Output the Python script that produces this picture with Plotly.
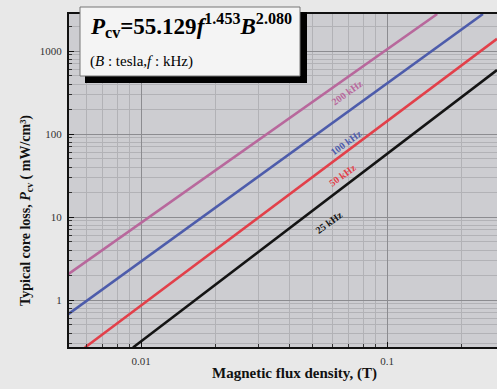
import plotly.graph_objects as go

# Core loss lines, one per frequency: flux density (T) and loss (mW/cm³) at the ends
freq_labels = ["200 kHz", "100 kHz", "50 kHz", "25 kHz"]
b_200 = [0.005, 0.16]
p_200 = [2.0, 2790]
b_100 = [0.005, 0.2455]
p_100 = [0.656, 2790]
b_50 = [0.00592, 0.28]
p_50 = [0.268, 1400]
b_25 = [0.00928, 0.28]
p_25 = [0.268, 590]

x_tick_vals = [0.01, 0.1]
x_tick_text = ["0.01", "0.1"]
y_tick_vals = [1, 10, 100, 1000]
y_tick_text = ["1", "10", "100", "1000"]

colors = ["#b8689c", "#4d5cab", "#e2404a", "#141414"]
series = [(b_200, p_200), (b_100, p_100), (b_50, p_50), (b_25, p_25)]

W, H = 497, 389
L, R, T, B = 69, 0, 14, 42
PW, PH = W - L - R, H - T - B


def px(x):
    return (x - L) / PW


def py(y):
    return (H - B - y) / PH


SERIF = "Liberation Serif"

fig = go.Figure()
for (bx, by), name, col in zip(series, freq_labels, colors):
    fig.add_trace(go.Scatter(x=bx, y=by, mode="lines", name=name,
                             line=dict(color=col, width=2.6), showlegend=False))


def note(x, y, text, size, color="#000", angle=0, xanchor="center", bold=False):
    fig.add_annotation(x=px(x), y=py(y), xref="paper", yref="paper",
                       xanchor=xanchor, yanchor="middle", textangle=angle,
                       text=f"<b>{text}</b>" if bold else text, showarrow=False,
                       font=dict(family=SERIF, size=size, color=color))


# Frequency labels along the lines
label_pos = [(347, 92), (346, 142), (342, 175), (329, 223)]
for name, col, (lx, ly) in zip(freq_labels, colors, label_pos):
    note(lx, ly, name, 10, col, angle=-36, bold=True)

# Formula box with a heavy drop shadow on its lower and right sides
fig.add_shape(type="rect", xref="paper", yref="paper",
              x0=px(85), x1=px(307), y0=py(83), y1=py(12),
              fillcolor="black", line=dict(color="black", width=0), layer="above")
fig.add_shape(type="rect", xref="paper", yref="paper",
              x0=px(80), x1=px(300), y0=py(76), y1=py(7),
              fillcolor="#f4f4f4", line=dict(color="#777777", width=1), layer="above")
note(88, 26, "<i>P</i><sub>cv</sub>=55.129<i>f</i><sup>1.453</sup><i>B</i><sup>2.080</sup>",
     23, xanchor="left", bold=True)
note(88, 62, "(<i>B</i> : tesla,<i>f</i> : kHz)", 15, xanchor="left")

# Axis titles
note(26, 211, "Typical core loss, <i>P</i><sub>cv</sub> ( mW/cm³)", 14, "#111",
     angle=-90, bold=True)
note(294, 373, "Magnetic flux density, (T)", 15, "#111", bold=True)

x0 = -2 - (141 - L) / 246
x1 = -2 + (W - R - 141) / 246
y1 = (300 - T) / 83
y0 = (300 - (H - B)) / 83

axis_common = dict(
    type="log", ticks="inside", ticklen=5, tickcolor="#111",
    showline=True, linecolor="#111", linewidth=2,
    showgrid=True, gridcolor="#8c8c90", gridwidth=1, zeroline=False,
    tickfont=dict(family=SERIF, size=11, color="#333"),
    minor=dict(dtick="D1", ticks="inside", ticklen=3, tickcolor="#333",
               showgrid=True, gridcolor="#b2b2b6", gridwidth=1),
)

fig.update_layout(
    width=W, height=H,
    margin=dict(l=L, r=R, t=T, b=B, pad=0),
    paper_bgcolor="#e8e8e8", plot_bgcolor="#cdcdd1",
    font=dict(family=SERIF, size=11, color="#333"),
    xaxis=dict(range=[x0, x1], tickvals=x_tick_vals, ticktext=x_tick_text,
               mirror=True, ticklabelstandoff=3, **axis_common),
    yaxis=dict(range=[y0, y1], tickvals=y_tick_vals, ticktext=y_tick_text,
               mirror=False, ticklabelstandoff=3, **axis_common),
)

fig.write_html("out.html")
